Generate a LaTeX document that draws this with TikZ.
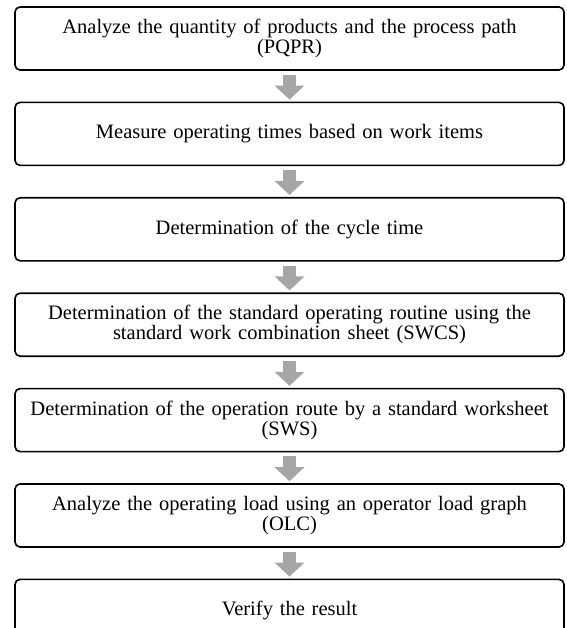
\documentclass[tikz,border=0pt]{standalone}
\usepackage{fontspec}
\setmainfont{Liberation Serif}[WordSpace=1.6]
\usepackage{xcolor}
\usetikzlibrary{arrows.meta,positioning}
\definecolor{arrowgray}{HTML}{A6A6A6}
\tikzset{>=latex}

\begin{document}
\begin{tikzpicture}[x=1pt, y=1pt,
    node distance=30.8pt,
    stepbox/.style={draw, line width=1.6pt, rounded corners=5pt,
      minimum width=549pt, minimum height=63pt, text width=549pt,
      inner xsep=0pt, inner ysep=0pt, align=center,
      font=\fontsize{20.5}{20}\selectfont},
    flowarrow/.style={draw=arrowgray, line width=13pt,
      -{Triangle[width=29pt, length=14pt, fill=arrowgray]}}]
  \useasboundingbox (0,0) rectangle (566,-628);

  % the seven steps
  \node[stepbox] (s1) at (289.5,-38.5)
    {Analyze the quantity of products and the process path\\(PQPR)};
  \node[stepbox, below=of s1] (s2)
    {Measure operating times based on work items};
  \node[stepbox, below=of s2] (s3)
    {Determination of the cycle time};
  \node[stepbox, below=of s3] (s4)
    {Determination of the standard operating routine using the\\standard work combination sheet (SWCS)};
  \node[stepbox, below=of s4] (s5)
    {Determination of the operation route by a standard worksheet\\(SWS)};
  \node[stepbox, below=of s5] (s6)
    {Analyze the operating load using an operator load graph\\(OLC)};
  \node[stepbox, below=of s6] (s7)
    {Verify the result};

  % gray block arrows between the steps
  \foreach \from/\to in {s1/s2, s2/s3, s3/s4, s4/s5, s5/s6, s6/s7}
    {
      \draw[flowarrow] ([yshift=-4pt]\from.south) -- ([yshift=2pt]\to.north);
    }
\end{tikzpicture}
\end{document}
